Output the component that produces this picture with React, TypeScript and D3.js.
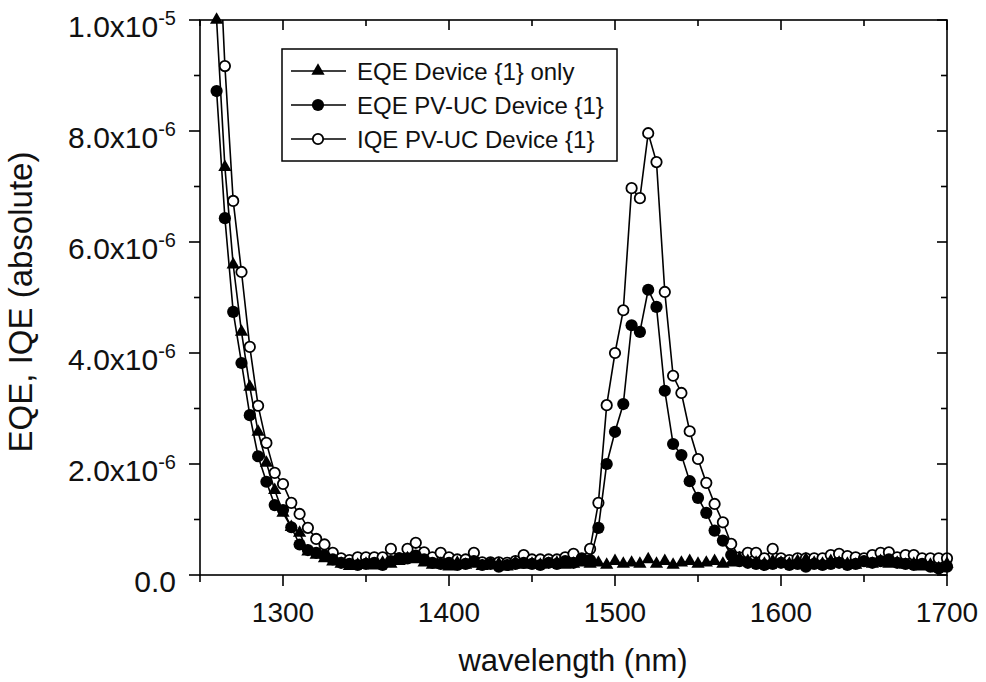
import React from 'react';
import * as d3 from 'd3';

// wavelength (nm)
const wavelength = [
  1260, 1265, 1270, 1275, 1280, 1285, 1290, 1295, 1300, 1305,
  1310, 1315, 1320, 1325, 1330, 1335, 1340, 1345, 1350, 1355,
  1360, 1365, 1370, 1375, 1380, 1385, 1390, 1395, 1400, 1405,
  1410, 1415, 1420, 1425, 1430, 1435, 1440, 1445, 1450, 1455,
  1460, 1465, 1470, 1475, 1480, 1485, 1490, 1495, 1500, 1505,
  1510, 1515, 1520, 1525, 1530, 1535, 1540, 1545, 1550, 1555,
  1560, 1565, 1570, 1575, 1580, 1585, 1590, 1595, 1600, 1605,
  1610, 1615, 1620, 1625, 1630, 1635, 1640, 1645, 1650, 1655,
  1660, 1665, 1670, 1675, 1680, 1685, 1690, 1695, 1700,
];

// values in units of 1e-6
const eqeDeviceOnly = [
  10.0, 7.35, 5.59, 4.38, 3.39, 2.58, 2.02, 1.53, 1.12, 0.86,
  0.76, 0.42, 0.36, 0.30, 0.24, 0.20, 0.16, 0.18, 0.20, 0.17,
  0.22, 0.20, 0.25, 0.30, 0.28, 0.22, 0.18, 0.20, 0.15, 0.22,
  0.18, 0.20, 0.16, 0.18, 0.20, 0.15, 0.22, 0.18, 0.20, 0.18,
  0.20, 0.22, 0.18, 0.20, 0.22, 0.20, 0.22, 0.18, 0.25, 0.20,
  0.22, 0.20, 0.28, 0.20, 0.25, 0.18, 0.22, 0.25, 0.20, 0.22,
  0.25, 0.20, 0.22, 0.30, 0.25, 0.22, 0.20, 0.25, 0.22, 0.20,
  0.25, 0.28, 0.22, 0.20, 0.25, 0.22, 0.20, 0.18, 0.22, 0.20,
  0.25, 0.20, 0.22, 0.18, 0.20, 0.15, 0.18, 0.12, 0.20,
];

const eqePvUc = [
  8.72, 6.43, 4.74, 3.82, 2.88, 2.14, 1.68, 1.26, 1.17, 0.86,
  0.55, 0.45, 0.40, 0.35, 0.28, 0.22, 0.20, 0.18, 0.20, 0.22,
  0.18, 0.25, 0.30, 0.30, 0.35, 0.28, 0.22, 0.20, 0.22, 0.18,
  0.20, 0.25, 0.18, 0.20, 0.15, 0.18, 0.20, 0.22, 0.20, 0.18,
  0.22, 0.20, 0.25, 0.22, 0.28, 0.27, 0.85, 2.00, 2.58, 3.08,
  4.50, 4.38, 5.14, 4.83, 3.32, 2.36, 2.16, 1.69, 1.39, 1.12,
  0.80, 0.62, 0.36, 0.25, 0.22, 0.20, 0.18, 0.20, 0.22, 0.18,
  0.20, 0.15, 0.20, 0.18, 0.20, 0.22, 0.18, 0.20, 0.25, 0.22,
  0.25, 0.28, 0.22, 0.20, 0.18, 0.20, 0.15, 0.12, 0.15,
];

const iqePvUc = [
  12.4, 9.17, 6.74, 5.46, 4.11, 3.05, 2.38, 1.84, 1.64, 1.30,
  1.10, 0.85, 0.65, 0.55, 0.40, 0.30, 0.27, 0.32, 0.32, 0.32,
  0.32, 0.47, 0.30, 0.47, 0.58, 0.41, 0.32, 0.40, 0.32, 0.28,
  0.28, 0.40, 0.23, 0.23, 0.23, 0.22, 0.25, 0.36, 0.28, 0.28,
  0.28, 0.28, 0.32, 0.38, 0.30, 0.47, 1.30, 3.06, 4.00, 4.77,
  6.97, 6.79, 7.96, 7.44, 5.10, 3.59, 3.28, 2.59, 2.09, 1.66,
  1.28, 0.95, 0.56, 0.32, 0.40, 0.40, 0.30, 0.47, 0.30, 0.27,
  0.30, 0.30, 0.30, 0.30, 0.36, 0.38, 0.34, 0.32, 0.30, 0.36,
  0.40, 0.41, 0.32, 0.36, 0.36, 0.30, 0.30, 0.30, 0.30,
];

const seriesNames = ['EQE Device {1} only', 'EQE PV-UC Device {1}', 'IQE PV-UC Device {1}'];
const xMajorTicks = [1300, 1400, 1500, 1600, 1700];
const xMinorTicks = [1250, 1350, 1450, 1550, 1650];
const yMajorTicks = [0, 2e-6, 4e-6, 6e-6, 8e-6, 1e-5];
const yMinorTicks = [1e-6, 3e-6, 5e-6, 7e-6, 9e-6];
const UNIT = 1e-6;

const FONT = '"Liberation Sans", Arial, Helvetica, sans-serif';

type Kind = 'triangle' | 'filled' | 'open';

function Marker({ kind, cx, cy }: { kind: Kind; cx: number; cy: number }) {
  if (kind === 'triangle') {
    const p = d3.symbol().type(d3.symbolTriangle).size(76)();
    return <path d={p || ''} transform={`translate(${cx},${cy})`} fill="#000" />;
  }
  if (kind === 'filled') return <circle cx={cx} cy={cy} r={6.1} fill="#000" />;
  return <circle cx={cx} cy={cy} r={5.2} fill="#fff" stroke="#000" strokeWidth={1.8} />;
}

export default function App() {
  const W = 986, H = 682;
  const left = 200, right = 947, top = 20, bottom = 575;
  const x = d3.scaleLinear().domain([1250, 1700]).range([left, right]);
  const y = d3.scaleLinear().domain([0, 1e-5]).range([bottom, top]);

  const series: { kind: Kind; values: number[] }[] = [
    { kind: 'open', values: iqePvUc },
    { kind: 'filled', values: eqePvUc },
    { kind: 'triangle', values: eqeDeviceOnly },
  ];

  const line = d3.line<[number, number]>().x(d => x(d[0])).y(d => y(d[1]));

  const yLabel = (v: number) => {
    if (v === 0) return <tspan>0.0</tspan>;
    const exp = Math.floor(Math.log10(v) + 1e-9);
    const mant = v / Math.pow(10, exp);
    return (
      <>
        <tspan>{mant.toFixed(1)}x10</tspan>
        <tspan fontSize={20} dy={-12}>{String(exp)}</tspan>
      </>
    );
  };

  const legendKinds: Kind[] = ['triangle', 'filled', 'open'];
  const legendRows = [71, 105, 139];

  return (
    <svg width={W} height={H} style={{ position: 'absolute', left: 0, top: 0, background: '#fff' }}
      fontFamily={FONT}>
      <defs>
        <clipPath id="plotclip">
          <rect x={left} y={top} width={right - left} height={bottom - top + 10} />
        </clipPath>
      </defs>
      <rect x={0} y={0} width={W} height={H} fill="#fff" />

      {/* series */}
      {series.map((s, si) => {
        const pts: [number, number][] = wavelength.map((w, i) => [w, s.values[i] * UNIT]);
        return (
          <g key={si}>
            <path d={line(pts) || ''} fill="none" stroke="#000" strokeWidth={1.6} clipPath="url(#plotclip)" />
            {pts.filter(p => p[1] <= 1.01e-5).map((p, i) => (
              <Marker key={i} kind={s.kind} cx={x(p[0])} cy={y(p[1])} />
            ))}
          </g>
        );
      })}

      {/* frame */}
      <rect x={left} y={top} width={right - left} height={bottom - top} fill="none" stroke="#000" strokeWidth={1.6} />

      {/* x ticks */}
      {xMajorTicks.map(t => (
        <g key={'xM' + t}>
          <line x1={x(t)} x2={x(t)} y1={bottom} y2={bottom + 11} stroke="#000" strokeWidth={1.6} />
          <line x1={x(t)} x2={x(t)} y1={top} y2={top + 10} stroke="#000" strokeWidth={1.6} />
          <text x={x(t)} y={622} textAnchor="middle" fontSize={28} fill="#111">{t}</text>
        </g>
      ))}
      {xMinorTicks.map(t => (
        <g key={'xm' + t}>
          <line x1={x(t)} x2={x(t)} y1={bottom} y2={bottom + 7} stroke="#000" strokeWidth={1.6} />
          <line x1={x(t)} x2={x(t)} y1={top} y2={top + 6} stroke="#000" strokeWidth={1.6} />
        </g>
      ))}

      {/* y ticks */}
      {yMajorTicks.map(t => (
        <g key={'yM' + t}>
          <line x1={left - 11} x2={left} y1={y(t)} y2={y(t)} stroke="#000" strokeWidth={1.6} />
          <line x1={right - 10} x2={right} y1={y(t)} y2={y(t)} stroke="#000" strokeWidth={1.6} />
          <text x={176} y={y(t) + 17} textAnchor="end" fontSize={30} fill="#111">{yLabel(t)}</text>
        </g>
      ))}
      {yMinorTicks.map(t => (
        <g key={'ym' + t}>
          <line x1={left - 6} x2={left} y1={y(t)} y2={y(t)} stroke="#000" strokeWidth={1.6} />
          <line x1={right - 6} x2={right} y1={y(t)} y2={y(t)} stroke="#000" strokeWidth={1.6} />
        </g>
      ))}

      {/* axis titles */}
      <text x={573} y={671} textAnchor="middle" fontSize={31} fill="#111">wavelength (nm)</text>
      <text transform="translate(32,302) rotate(-90)" textAnchor="middle" fontSize={33} fill="#111">
        EQE, IQE (absolute)
      </text>

      {/* legend */}
      <rect x={282} y={49} width={335} height={112} fill="#fff" stroke="#000" strokeWidth={1.5} />
      {seriesNames.map((name, i) => (
        <g key={name}>
          <line x1={291} x2={346} y1={legendRows[i]} y2={legendRows[i]} stroke="#000" strokeWidth={1.5} />
          <Marker kind={legendKinds[i]} cx={318} cy={legendRows[i]} />
          <text x={357} y={legendRows[i] + 8.5} fontSize={24} fill="#111">{name}</text>
        </g>
      ))}
    </svg>
  );
}
